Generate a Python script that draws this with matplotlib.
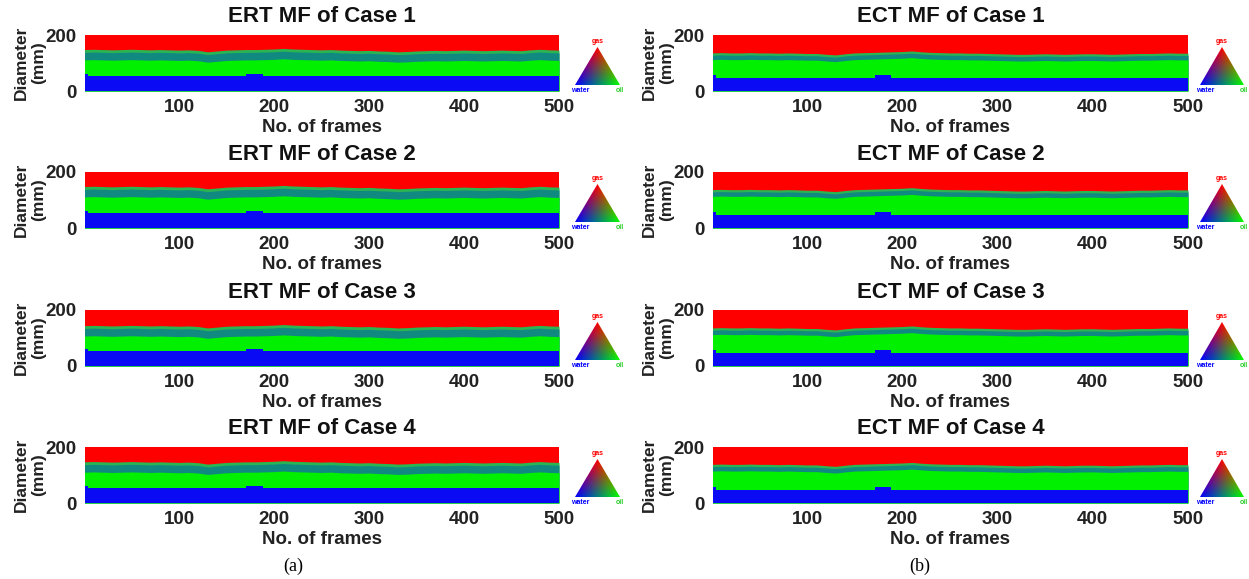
import numpy as np
import matplotlib
matplotlib.use("Agg")
import matplotlib.pyplot as plt
from matplotlib.patches import Polygon

plt.rcParams['font.family'] = ['Liberation Sans', 'DejaVu Sans']

# frames sampled every 10
frames = np.arange(0, 501, 10)

# lower edge of the gas (red) layer, mm
ert_gas = [148, 149, 148, 147, 148, 149, 148, 147, 148, 147,
           146, 147, 145, 140, 143, 146, 147, 148, 148, 149,
           150, 152, 150, 149, 148, 147, 148, 146, 145, 144,
           145, 143, 142, 140, 141, 143, 144, 145, 144, 145,
           146, 145, 144, 145, 146, 145, 144, 147, 149, 147, 146]
ect_gas = [136, 137, 136, 136, 137, 136, 136, 135, 136, 135,
           134, 134, 131, 129, 133, 136, 137, 138, 139, 140,
           141, 143, 140, 138, 137, 136, 136, 135, 135, 134,
           133, 132, 131, 131, 132, 133, 132, 131, 132, 133,
           133, 132, 131, 132, 133, 134, 134, 135, 136, 135, 135]

# thickness of the transition bands below the gas layer, mm
ert_mix_band = 10
ert_teal_band = 27
ect_mix_band = 8
ect_teal_band = 16

# water layer top (step profile)
water_x = [0, 4, 171, 188, 500]
ert_water = [61, 52, 61, 52, 52]
ect_water = [56, 48, 56, 48, 48]

cases = [1, 2, 3, 4]
ert_shift = [0, 0, -4, -1]
ect_shift = [0, 1, 0, 2]

xticks = [100, 200, 300, 400, 500]
yticks = [0, 200]

c_gas = '#ff0000'
c_mix = '#2ab552'
c_teal = '#108a80'
c_oil = '#00f000'
c_water = '#0a0af5'

W, H = 1249, 579
fig = plt.figure(figsize=(W / 100, H / 100), dpi=100)


def px_axes(x0, y0, x1, y1):
    return fig.add_axes([x0 / W, 1 - y1 / H, (x1 - x0) / W, (y1 - y0) / H])


def draw_panel(x0, x1, top, title, gas, mix, teal, water, shift, label_x):
    ax = px_axes(x0, top, x1, top + 56)
    g = np.array(gas) + shift
    ax.fill_between(frames, 0, 200, color=c_gas, lw=0)
    ax.fill_between(frames, 0, g, color=c_mix, lw=0)
    ax.fill_between(frames, 0, g - mix, color=c_teal, lw=0)
    ax.fill_between(frames, 0, g - mix - teal, color=c_oil, lw=0)
    ax.fill_between(water_x, 0, water, step='post', color=c_water, lw=0)
    ax.set_xlim(1, 500)
    ax.set_ylim(0, 200)
    ax.set_xticks(xticks)
    ax.set_yticks(yticks)
    ax.tick_params(length=0, labelsize=13.5, pad=6)
    for lab in ax.get_xticklabels() + ax.get_yticklabels():
        lab.set_fontweight('bold')
        lab.set_color('#222222')
    for s in ax.spines.values():
        s.set_visible(False)
    ax.set_title(title, fontsize=16, fontweight='bold', pad=9, color='#111111')
    ax.set_xlabel('No. of frames', fontsize=13.5, fontweight='bold', labelpad=2, color='#222222')
    ax.set_ylabel('Diameter\n(mm)', fontsize=12.5, fontweight='bold',
                  linespacing=1.2, color='#222222')
    ax.yaxis.set_label_coords((label_x - x0) / (x1 - x0), 0.5)


def draw_triangle(x0, x1, top):
    ax = px_axes(x0, top + 12, x1, top + 50)
    n = 120
    xs, ys = np.meshgrid(np.linspace(0, 1, n), np.linspace(0, 1, n))
    gas = ys
    oil = xs - 0.5 * ys
    wat = 1 - oil - gas
    img = np.clip(np.dstack([gas, oil, wat]), 0, 1)
    im = ax.imshow(img, origin='lower', extent=[0, 1, 0, 1], aspect='auto')
    tri = Polygon([[0, 0], [1, 0], [0.5, 1]], closed=True, transform=ax.transData)
    im.set_clip_path(tri)
    ax.set_xlim(0, 1)
    ax.set_ylim(0, 1)
    ax.axis('off')
    ax.text(0.5, 1.04, 'gas', color='red', fontsize=5, fontweight='bold',
            ha='center', va='bottom')
    ax.text(-0.08, -0.04, 'water', color='blue', fontsize=5, fontweight='bold',
            ha='left', va='top')
    ax.text(1.08, -0.04, 'oil', color='#22cc22', fontsize=5, fontweight='bold',
            ha='right', va='top')


row_tops = [35, 172, 310, 447]
for i, case in enumerate(cases):
    top = row_tops[i]
    draw_panel(85, 559, top, f'ERT MF of Case {case}', ert_gas, ert_mix_band,
               ert_teal_band, ert_water, ert_shift[i], 46)
    draw_triangle(575, 620, top)
    draw_panel(713, 1188, top, f'ECT MF of Case {case}', ect_gas, ect_mix_band,
               ect_teal_band, ect_water, ect_shift[i], 674)
    draw_triangle(1200, 1244, top)

fig.text(293 / W, 1 - 566 / H, '(a)', fontsize=13, family='Liberation Serif',
         ha='center', va='center')
fig.text(920 / W, 1 - 566 / H, '(b)', fontsize=13, family='Liberation Serif',
         ha='center', va='center')

fig.savefig('out.png', dpi=100)
